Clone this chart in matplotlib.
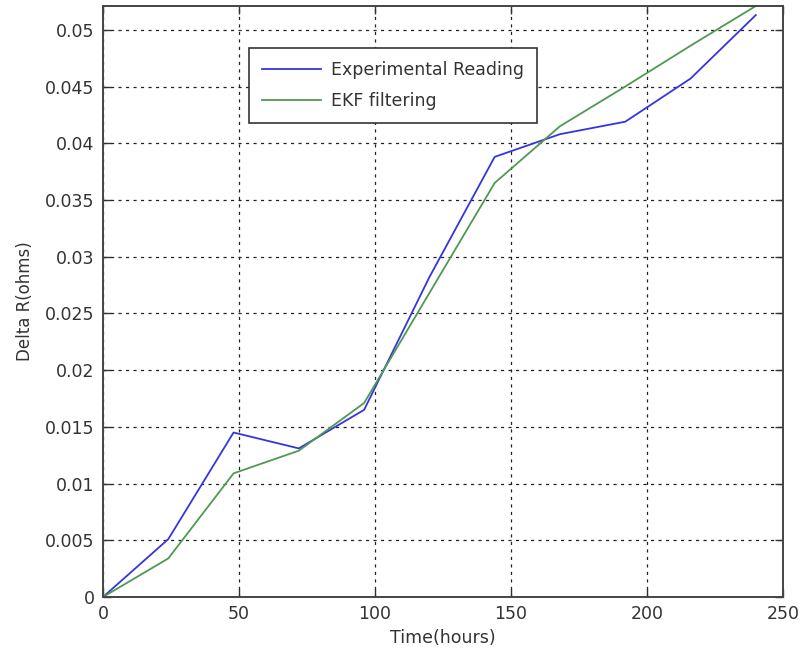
import matplotlib
matplotlib.use("Agg")
import matplotlib.pyplot as plt

hours = [0, 24, 48, 72, 96, 120, 144, 168, 192, 216, 240]
experimental = [0.0, 0.0051, 0.0145, 0.0131, 0.0165, 0.0282, 0.0388, 0.0408, 0.0419, 0.0457, 0.0513]
ekf = [0.0, 0.0034, 0.0109, 0.0129, 0.0171, 0.0268, 0.0365, 0.0415, 0.0450, 0.0486, 0.0521]

xticks = [0, 50, 100, 150, 200, 250]
yticks = [0, 0.005, 0.01, 0.015, 0.02, 0.025, 0.03, 0.035, 0.04, 0.045, 0.05]
ytick_labels = ["0", "0.005", "0.01", "0.015", "0.02", "0.025", "0.03", "0.035", "0.04", "0.045", "0.05"]

plt.rcParams['font.family'] = ['DejaVu Sans']
fig = plt.figure(figsize=(8.03, 6.62), dpi=100)
ax = fig.add_axes([103/803, 65/662, 680/803, 591/662])

ax.plot(hours, experimental, color='#3535e0', lw=1.3, label='Experimental Reading')
ax.plot(hours, ekf, color='#4f9a4f', lw=1.3, label='EKF filtering')

ax.set_xlim(0, 250)
ax.set_ylim(0, 0.0521)
ax.set_xticks(xticks)
ax.set_yticks(yticks)
ax.set_yticklabels(ytick_labels)
ax.tick_params(direction='in', length=6, width=1, top=True, right=True,
               labelsize=12.5, colors='#333333', pad=6)
ax.grid(True, color='#222222', linestyle=(0, (2.5, 3.5)), lw=0.9)
for s in ax.spines.values():
    s.set_color('#444444')
    s.set_linewidth(1.4)

ax.set_xlabel('Time(hours)', fontsize=12.5, color='#333333', labelpad=4)
ax.set_ylabel('Delta R(ohms)', fontsize=12, color='#333333', labelpad=8)

leg = ax.legend(loc='upper left', bbox_to_anchor=(0.2147, 0.929), fontsize=12.5,
                fancybox=False, framealpha=1, edgecolor='#333333',
                handlelength=3.4, borderpad=0.75, labelspacing=0.75,
                borderaxespad=0, handletextpad=0.6)
leg.get_frame().set_linewidth(1.2)
for t in leg.get_texts():
    t.set_color('#333333')

fig.savefig('out.png', dpi=100)
